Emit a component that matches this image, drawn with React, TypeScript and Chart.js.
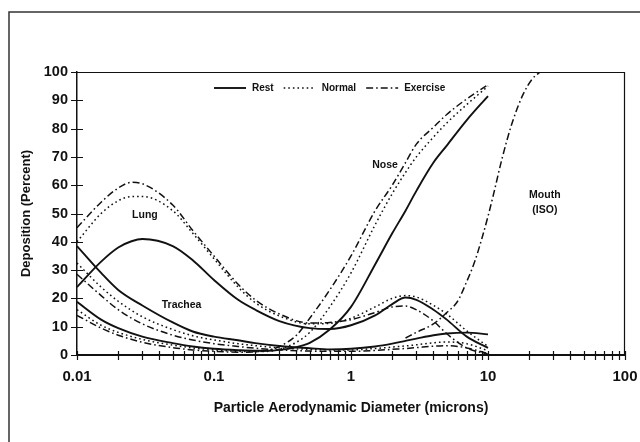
import React, { useEffect, useRef } from "react";
import { Chart, registerables } from "chart.js";

Chart.register(...registerables);

// ---------- data (particle diameter in microns, deposition in percent) ----------
const diamLung = [0.01, 0.015, 0.02, 0.025, 0.03, 0.05, 0.07, 0.1, 0.15, 0.2, 0.3, 0.5, 0.7, 1, 1.5, 2, 2.5, 3, 4, 5, 7, 10];
const lungRest = [24, 33, 38, 40.2, 41, 38.5, 33.5, 26.5, 19.5, 16, 12, 9.5, 9.2, 10.5, 14, 18, 20.3, 19.5, 16, 12.5, 6.5, 2.5];
const lungNormal = [40, 50, 54.5, 56, 56, 51, 43, 34, 24, 18.5, 13.8, 11, 11.2, 13, 17, 20, 21, 20.5, 17.5, 14.5, 8.5, 3];
const lungExercise = [45, 54, 59, 61, 60.5, 53, 44, 35, 25, 19.5, 14.5, 11.3, 11.5, 12.5, 15, 17, 17.3, 16, 12, 7.5, 2.5, 0.3];

const diamTrachea = [0.01, 0.015, 0.02, 0.03, 0.05, 0.07, 0.1, 0.15, 0.2, 0.3, 0.5, 0.7, 1, 1.5, 2, 2.5, 3, 4, 5, 7, 10];
const tracheaRest = [38.5, 29, 23, 17.5, 11.5, 8.3, 6.5, 5.2, 4.2, 3.2, 2.4, 2, 2.2, 3, 4, 5, 5.8, 7, 7.6, 7.9, 7.3];
const tracheaNormal = [32.5, 24, 19, 13.5, 9, 6.8, 5.3, 4, 3.3, 2.5, 2, 1.8, 1.8, 2.3, 2.8, 3.2, 3.6, 4.3, 4.6, 4, 1.5];
const tracheaExercise = [28.5, 21, 16, 11, 7, 5.3, 4, 3, 2.4, 1.8, 1.4, 1.3, 1.3, 1.6, 2, 2.3, 2.6, 3.1, 3.3, 2.5, 0.5];

const diamNose = [0.01, 0.015, 0.02, 0.03, 0.05, 0.07, 0.1, 0.15, 0.2, 0.25, 0.3, 0.4, 0.5, 0.7, 1, 1.5, 2, 2.5, 3, 4, 5, 7, 10];
const noseRest = [18.8, 12.5, 9.5, 6.5, 4.2, 3, 2.2, 1.7, 1.5, 1.5, 1.8, 2.8, 4.3, 9, 17, 32, 43, 51, 58, 68, 74, 83, 91.5];
const noseNormal = [16, 10.5, 8, 5.5, 3.5, 2.5, 1.8, 1.3, 1.2, 1.3, 2, 4.5, 8, 17, 29, 46, 57, 64.5, 70, 77, 82, 88.5, 95];
const noseExercise = [14, 9.5, 7, 4.5, 2.6, 1.8, 1.3, 1, 1.1, 1.7, 3, 7, 13, 23, 35, 51, 60, 68, 74.5, 80.5, 85, 90.5, 95.5];

const diamMouth = [2.5, 3, 4, 5, 6, 7, 8, 9, 10, 11, 12.6, 15, 18, 21, 24];
const mouthIso = [6, 8, 11, 15, 19, 26, 33, 41, 49, 57, 69, 82, 92, 97.5, 100];

// axis ticks
const xDecades = [0.01, 0.1, 1, 10];
const xMajorLabels: Record<string, string> = { "0.01": "0.01", "0.1": "0.1", "1": "1", "10": "10", "100": "100" };
const yTickValues = [0, 10, 20, 30, 40, 50, 60, 70, 80, 90, 100];

// legend and curve labels
const legendItems = [
  { label: "Rest", style: "rest" },
  { label: "Normal", style: "normal" },
  { label: "Exercise", style: "exercise" },
];
const curveLabels = [
  { text: "Lung", x: 0.0313, y: 49.5 },
  { text: "Trachea", x: 0.058, y: 17.7 },
  { text: "Nose", x: 1.77, y: 67 },
  { text: "Mouth", x: 26, y: 56.5 },
  { text: "(ISO)", x: 26, y: 51.2 },
];

const INK = "#111";
const FONT = "'Liberation Sans', Arial, Helvetica, sans-serif";
const DASHES: Record<string, number[]> = { rest: [], normal: [1.6, 3], exercise: [7, 3, 1.6, 3] };
const WIDTHS: Record<string, number> = { rest: 1.9, normal: 1.5, exercise: 1.5 };

function pts(xs: number[], ys: number[]) {
  return xs.map((x, i) => ({ x, y: ys[i] }));
}

function ds(label: string, xs: number[], ys: number[], style: string) {
  return {
    label,
    data: pts(xs, ys),
    borderColor: INK,
    backgroundColor: INK,
    borderWidth: WIDTHS[style],
    borderDash: DASHES[style],
    pointRadius: 0,
    pointHoverRadius: 0,
    fill: false,
    cubicInterpolationMode: "monotone" as const,
  };
}

const decorPlugin = {
  id: "decor",
  afterDraw(chart: any) {
    const { ctx, chartArea } = chart;
    const { left, right, top, bottom } = chartArea;
    const xs = chart.scales.x;
    const ys = chart.scales.y;
    ctx.save();

    // outer figure frame (top and left edges)
    ctx.strokeStyle = "#333";
    ctx.lineWidth = 1.5;
    ctx.beginPath();
    ctx.moveTo(9, chart.height);
    ctx.lineTo(9, 12);
    ctx.lineTo(chart.width, 12);
    ctx.stroke();

    // plot box top and right
    ctx.strokeStyle = INK;
    ctx.lineWidth = 1.2;
    ctx.beginPath();
    ctx.moveTo(left, top + 0.5);
    ctx.lineTo(right, top + 0.5);
    ctx.moveTo(right - 0.5, top);
    ctx.lineTo(right - 0.5, bottom);
    ctx.stroke();

    // crossing tick marks
    ctx.lineWidth = 1.2;
    ctx.beginPath();
    ys.ticks.forEach((t: any) => {
      const py = Math.round(ys.getPixelForValue(t.value)) + 0.5;
      ctx.moveTo(left - 6, py);
      ctx.lineTo(left + 6, py);
    });
    xs.ticks.forEach((t: any) => {
      const px = Math.round(xs.getPixelForValue(t.value)) + 0.5;
      ctx.moveTo(px, bottom - 4);
      ctx.lineTo(px, bottom + 5);
    });
    ctx.stroke();

    // legend inside plot
    ctx.font = `bold 10px ${FONT}`;
    ctx.fillStyle = INK;
    ctx.textBaseline = "middle";
    let lx = left + 137;
    const ly = top + 16;
    legendItems.forEach((it) => {
      ctx.save();
      ctx.lineWidth = WIDTHS[it.style];
      ctx.setLineDash(DASHES[it.style]);
      ctx.beginPath();
      ctx.moveTo(lx, ly);
      ctx.lineTo(lx + 32, ly);
      ctx.stroke();
      ctx.restore();
      lx += 38;
      ctx.fillText(it.label, lx, ly);
      lx += ctx.measureText(it.label).width + 10;
    });

    // curve labels
    ctx.font = `bold 10.5px ${FONT}`;
    ctx.textAlign = "center";
    curveLabels.forEach((c) => {
      ctx.fillText(c.text, xs.getPixelForValue(c.x), ys.getPixelForValue(c.y));
    });
    ctx.restore();
  },
};

export default function App() {
  const ref = useRef<HTMLCanvasElement | null>(null);

  useEffect(() => {
    document.body.style.margin = "0";
    const canvas = ref.current;
    if (!canvas) return;

    const xTickValues: number[] = [];
    xDecades.forEach((d) => {
      for (let k = 1; k <= 9; k++) xTickValues.push(Number((d * k).toPrecision(3)));
    });
    xTickValues.push(100);

    const chart = new Chart(canvas, {
      type: "line",
      data: {
        datasets: [
          ds("Lung Rest", diamLung, lungRest, "rest"),
          ds("Lung Normal", diamLung, lungNormal, "normal"),
          ds("Lung Exercise", diamLung, lungExercise, "exercise"),
          ds("Trachea Rest", diamTrachea, tracheaRest, "rest"),
          ds("Trachea Normal", diamTrachea, tracheaNormal, "normal"),
          ds("Trachea Exercise", diamTrachea, tracheaExercise, "exercise"),
          ds("Nose Rest", diamNose, noseRest, "rest"),
          ds("Nose Normal", diamNose, noseNormal, "normal"),
          ds("Nose Exercise", diamNose, noseExercise, "exercise"),
          ds("Mouth (ISO)", diamMouth, mouthIso, "exercise"),
        ],
      },
      options: {
        responsive: false,
        animation: false,
        events: [],
        layout: { padding: { left: 0, right: 15, top: 72, bottom: 0 } },
        plugins: { legend: { display: false }, tooltip: { enabled: false } },
        scales: {
          x: {
            type: "logarithmic",
            min: 0.01,
            max: 100,
            afterFit: (s: any) => {
              s.height = 87;
              s.paddingLeft = 0;
              s.paddingRight = 0;
            },
            afterBuildTicks: (s: any) => {
              s.ticks = xTickValues.map((v) => ({ value: v }));
            },
            grid: { display: true, drawOnChartArea: false, drawTicks: false },
            border: { display: true, color: INK, width: 2 },
            ticks: {
              autoSkip: false,
              maxRotation: 0,
              padding: 13,
              color: INK,
              font: { family: FONT, size: 15, weight: "bold" },
              callback: (v: any) => xMajorLabels[String(v)] ?? "",
            },
            title: {
              display: true,
              text: "Particle Aerodynamic Diameter (microns)",
              color: INK,
              font: { family: FONT, size: 14, weight: "bold" },
              padding: { top: 0, bottom: 25 },
            },
          },
          y: {
            type: "linear",
            min: 0,
            max: 100,
            afterFit: (s: any) => {
              s.width = 77;
              s.paddingTop = 0;
              s.paddingBottom = 0;
            },
            afterBuildTicks: (s: any) => {
              s.ticks = yTickValues.map((v) => ({ value: v }));
            },
            grid: { display: true, drawOnChartArea: false, drawTicks: false },
            border: { display: true, color: INK, width: 1.5 },
            ticks: {
              padding: 9,
              color: INK,
              font: { family: FONT, size: 14.5, weight: "bold" },
              callback: (v: any) => String(v),
            },
            title: {
              display: true,
              text: "Deposition (Percent)",
              color: INK,
              font: { family: FONT, size: 13, weight: "bold" },
              padding: { top: 19, bottom: 0 },
            },
          },
        },
      },
      plugins: [decorPlugin],
    } as any);

    return () => chart.destroy();
  }, []);

  return <canvas ref={ref} width={640} height={442} style={{ display: "block" }} />;
}
